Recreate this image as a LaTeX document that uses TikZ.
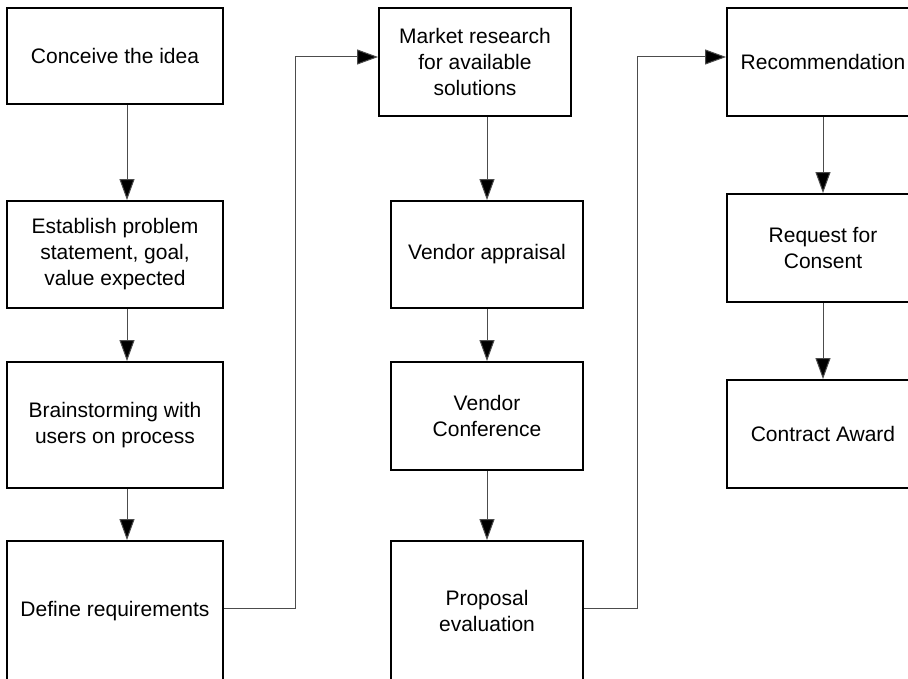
\documentclass[tikz,border=0pt]{standalone}
\usepackage{fontspec}
\setmainfont{Liberation Sans}
\usetikzlibrary{arrows.meta}

\begin{document}
\begin{tikzpicture}[x=1pt,y=-1pt,
  box/.style={draw=black, line width=1.8pt, fill=white, inner sep=0pt, align=center,
    font=\fontsize{21}{26}\selectfont},
  flow/.style={draw=black!70, line width=1pt, -{Triangle[length=21pt,width=15pt,fill=black]}}]
  \useasboundingbox[fill=white] (0,0) rectangle (908,679);

  % first column
  \node[box, minimum width=216pt, minimum height=96pt]  (idea)    at (115,56)    {Conceive the idea};
  \node[box, minimum width=216pt, minimum height=107pt] (problem) at (115,254.5) {Establish problem\\statement, goal,\\value expected};
  \node[box, minimum width=216pt, minimum height=126pt] (brain)   at (115,425)   {Brainstorming with\\users on process};
  \node[box, minimum width=216pt, minimum height=140pt] (reqs)    at (115,611)   {Define requirements};

  % second column
  \node[box, minimum width=192pt, minimum height=108pt] (market)   at (475,62)    {Market research\\for available\\solutions};
  \node[box, minimum width=192pt, minimum height=107pt] (appraise) at (487,254.5) {Vendor appraisal};
  \node[box, minimum width=192pt, minimum height=108pt] (confer)   at (487,416)   {Vendor\\Conference};
  \node[box, minimum width=192pt, minimum height=140pt] (proposal) at (487,611)   {Proposal\\evaluation};

  % third column
  \node[box, minimum width=192pt, minimum height=108pt] (recommend) at (823,62)  {Recommendation};
  \node[box, minimum width=192pt, minimum height=108pt] (consent)   at (823,248) {Request for\\Consent};
  \node[box, minimum width=192pt, minimum height=108pt] (award)     at (823,434) {Contract Award};

  \coordinate (colA) at (127,0);
  \coordinate (jumpA) at (295,57);
  \coordinate (jumpB) at (637,57);

  \draw[flow] (idea.south -| colA)    -- (problem.north -| colA);
  \draw[flow] (problem.south -| colA) -- (brain.north -| colA);
  \draw[flow] (brain.south -| colA)   -- (reqs.north -| colA);
  \draw[flow] ([yshift=3pt]reqs.east) -| (jumpA) -- (jumpA -| market.west);

  \draw[flow] (market.south -| appraise.north) -- (appraise.north);
  \draw[flow] (appraise.south) -- (confer.north);
  \draw[flow] (confer.south)   -- (proposal.north);
  \draw[flow] ([yshift=3pt]proposal.east) -| (jumpB) -- (jumpB -| recommend.west);

  \draw[flow] (recommend.south) -- (consent.north);
  \draw[flow] (consent.south)   -- (award.north);
\end{tikzpicture}
\end{document}
